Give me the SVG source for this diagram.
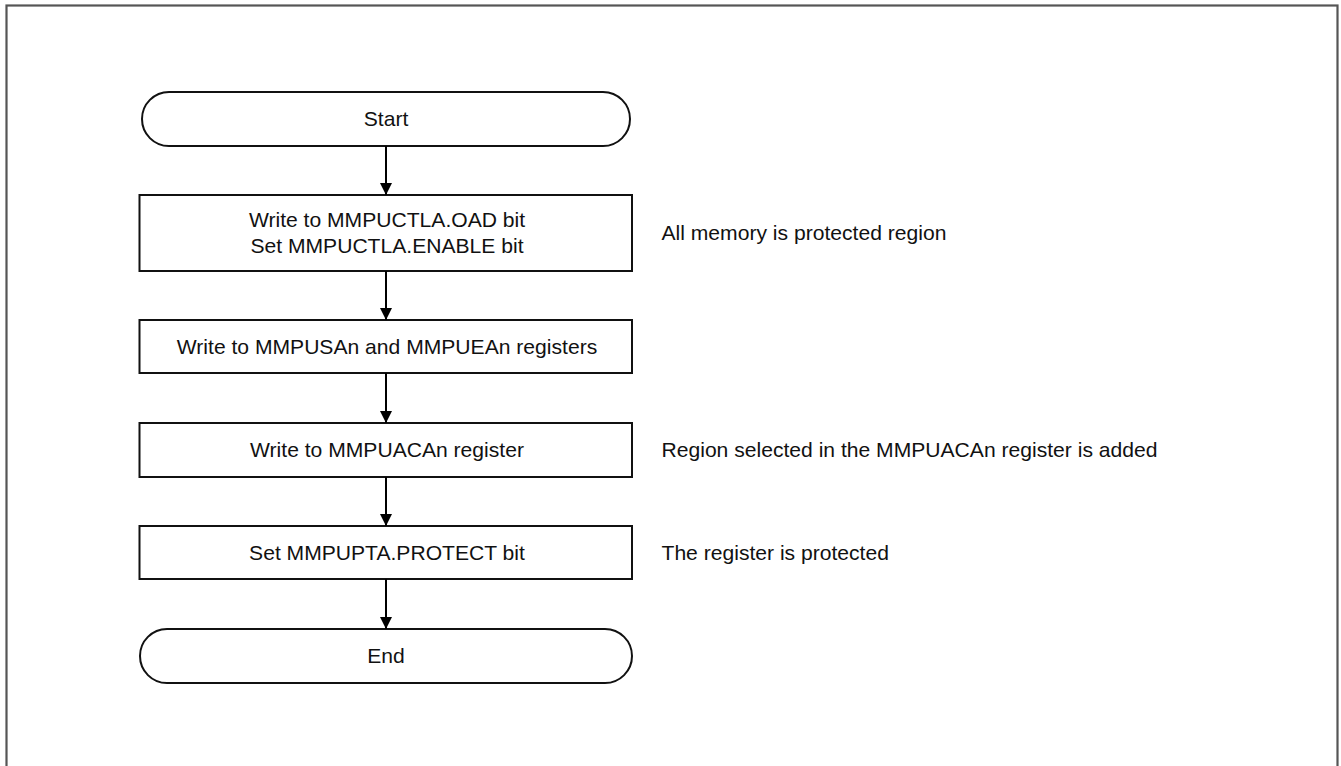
<svg xmlns="http://www.w3.org/2000/svg" width="1341" height="766" viewBox="0 0 1341 766">
<defs>
<marker id="arr" markerUnits="userSpaceOnUse" markerWidth="14" markerHeight="14" viewBox="0 0 14 14" refX="12" refY="7" orient="auto">
<path d="M0,1 L12,7 L0,13 Z" fill="#000"/>
</marker>
</defs>
<style>
.frame{fill:none;stroke:#555;stroke-width:2.2}
.node{fill:#fff;stroke:#111;stroke-width:2}
.t{font-family:"Liberation Sans",Arial,sans-serif;font-size:21.1px;fill:#111}
.c{text-anchor:middle}
.conn{stroke:#000;stroke-width:2;fill:none;marker-end:url(#arr)}
</style>
<rect width="1341" height="766" fill="#fff"/>
<rect class="frame" x="6.5" y="5.5" width="1331" height="800"/>
<g id="start"><rect class="node" x="142" y="92" width="488" height="54" rx="27" ry="27"/><text class="t c" x="386" y="126">Start</text></g>
<g id="step1"><rect class="node" x="139.5" y="195" width="492.5" height="76"/><text class="t c" x="387" y="227">Write to MMPUCTLA.OAD bit</text><text class="t c" x="387" y="253">Set MMPUCTLA.ENABLE bit</text></g>
<g id="step2"><rect class="node" x="139.5" y="320" width="492.5" height="53"/><text class="t c" x="387" y="354">Write to MMPUSAn and MMPUEAn registers</text></g>
<g id="step3"><rect class="node" x="139.5" y="423" width="492.5" height="54"/><text class="t c" x="387" y="457">Write to MMPUACAn register</text></g>
<g id="step4"><rect class="node" x="139.5" y="526" width="492.5" height="53"/><text class="t c" x="387" y="560">Set MMPUPTA.PROTECT bit</text></g>
<g id="end"><rect class="node" x="140" y="629" width="492" height="54" rx="27" ry="27"/><text class="t c" x="386" y="663">End</text></g>
<g id="note1"><text class="t" x="661.5" y="240">All memory is protected region</text></g>
<g id="note2"><text class="t" x="661.5" y="457">Region selected in the MMPUACAn register is added</text></g>
<g id="note3"><text class="t" x="661.5" y="560">The register is protected</text></g>
<g id="connectors">
<line class="conn" x1="386" y1="146" x2="386" y2="195"/>
<line class="conn" x1="386" y1="271" x2="386" y2="320"/>
<line class="conn" x1="386" y1="373" x2="386" y2="423"/>
<line class="conn" x1="386" y1="477" x2="386" y2="526"/>
<line class="conn" x1="386" y1="579" x2="386" y2="629"/>
</g>
</svg>
